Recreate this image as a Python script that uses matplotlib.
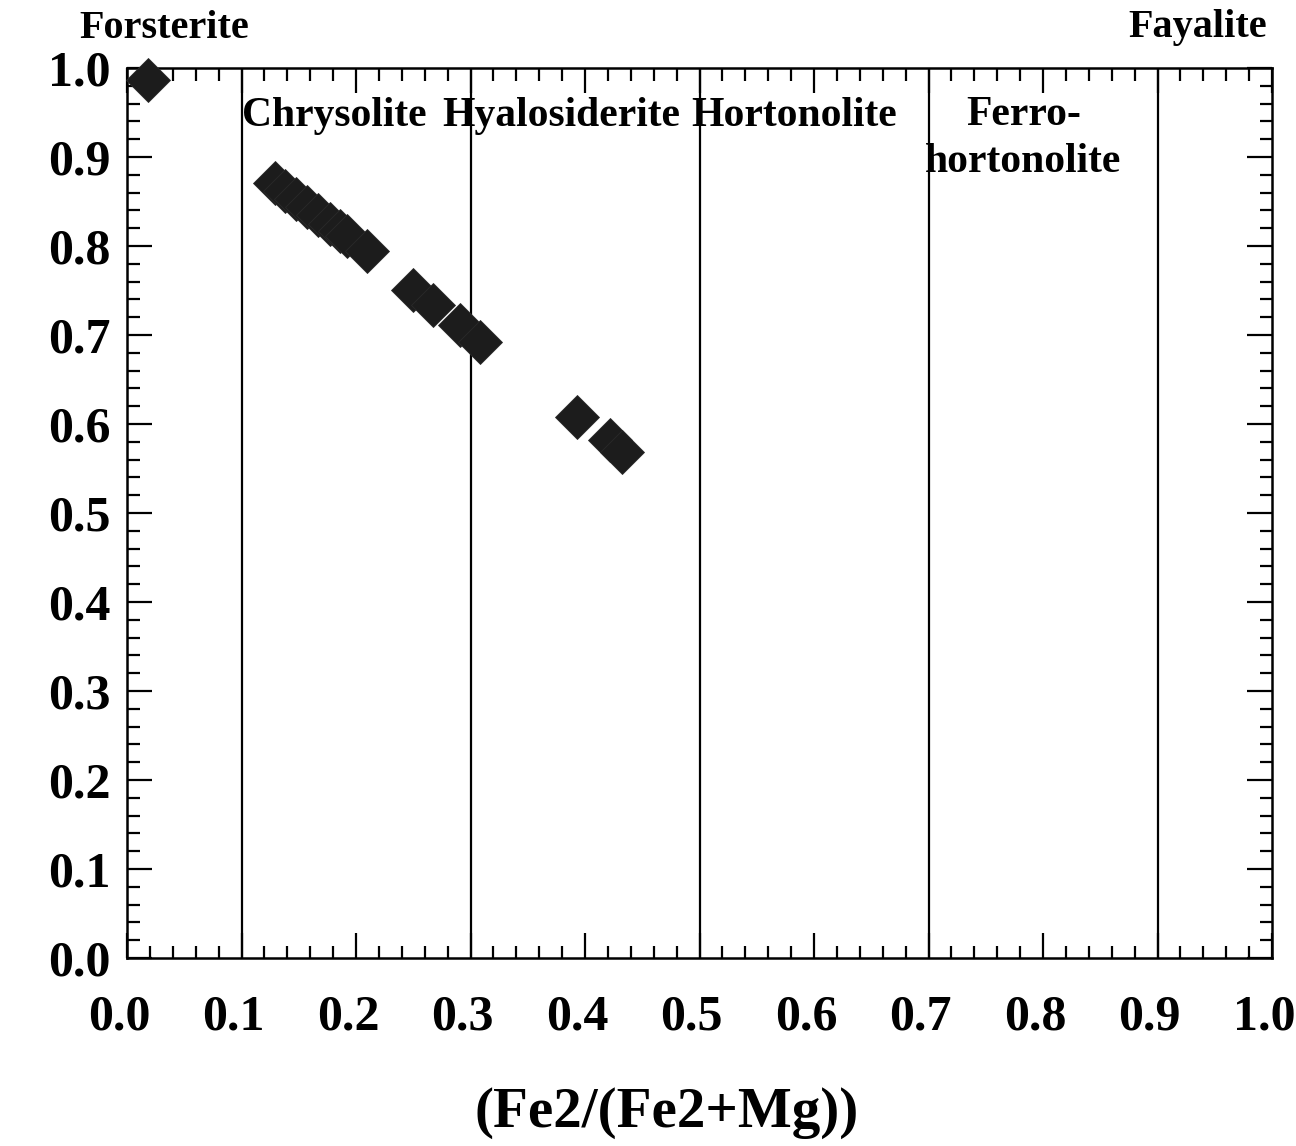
import matplotlib
matplotlib.use("Agg")
import matplotlib.pyplot as plt
import matplotlib.transforms as mtransforms
from matplotlib.ticker import MultipleLocator, FormatStrFormatter

# Data
fe_ratio = [0.018, 0.129, 0.138, 0.148, 0.157, 0.167, 0.177, 0.186, 0.192, 0.210,
            0.250, 0.267, 0.291, 0.308, 0.393, 0.422, 0.432]
mg_ratio = [0.986, 0.871, 0.862, 0.853, 0.844, 0.835, 0.825, 0.817, 0.811, 0.794,
            0.751, 0.734, 0.711, 0.692, 0.608, 0.582, 0.569]
boundaries = [0.1, 0.3, 0.5, 0.7, 0.9]
field_names = ["Chrysolite", "Hyalosiderite", "Hortonolite", "Ferro-\nhortonolite"]
field_x = [0.181, 0.379, 0.5825, 0.783]

plt.rcParams['font.family'] = ['Liberation Serif', 'DejaVu Serif']
plt.rcParams['font.weight'] = 'bold'

fig = plt.figure(figsize=(12.96, 11.46), dpi=100)
ax = fig.add_axes([127/1296, 1 - 958/1146, (1272-127)/1296, (958-68)/1146])

for b in boundaries:
    ax.axvline(b, color='black', lw=1.6, zorder=1)

ax.plot(fe_ratio, mg_ratio, linestyle='none', marker='D', markersize=22,
        markerfacecolor='#1c1c1c', markeredgecolor='#2a2a2a', markeredgewidth=0.6,
        zorder=3, clip_on=False)

ax.set_xlim(0, 1)
ax.set_ylim(0, 1)
ax.xaxis.set_major_locator(MultipleLocator(0.1))
ax.xaxis.set_minor_locator(MultipleLocator(0.02))
ax.yaxis.set_major_locator(MultipleLocator(0.1))
ax.yaxis.set_minor_locator(MultipleLocator(0.02))
ax.xaxis.set_major_formatter(FormatStrFormatter('%.1f'))
ax.yaxis.set_major_formatter(FormatStrFormatter('%.1f'))

ax.tick_params(which='both', direction='in', top=True, right=True, width=1.6)
ax.tick_params(which='major', length=18)
ax.tick_params(which='minor', length=9)
ax.tick_params(axis='x', which='major', pad=26, labelsize=36)
ax.tick_params(axis='y', which='major', pad=12, labelsize=36)
shift = mtransforms.ScaledTranslation(-8/100, 0, fig.dpi_scale_trans)
for lab in ax.get_xticklabels():
    lab.set_fontweight('bold')
    lab.set_transform(lab.get_transform() + shift)
for lab in ax.get_yticklabels():
    lab.set_fontweight('bold')
for s in ax.spines.values():
    s.set_linewidth(1.8)

for i in range(3):
    ax.text(field_x[i], 0.946, field_names[i], ha='center', va='center',
            fontsize=30, fontweight='bold')
ax.text(field_x[3], 0.968, field_names[3], ha='center', va='top', fontsize=30,
        fontweight='bold', linespacing=1.3)

fig.text(164/1296, 1 - 28/1146, "Forsterite", ha='center', va='center', fontsize=29, fontweight='bold')
fig.text(1198/1296, 1 - 28/1146, "Fayalite", ha='center', va='center', fontsize=29, fontweight='bold')
fig.text(667/1296, 1 - 1113/1146, "(Fe2/(Fe2+Mg))", ha='center', va='center', fontsize=41, fontweight='bold')

fig.savefig("out.png", dpi=100, facecolor='white')
